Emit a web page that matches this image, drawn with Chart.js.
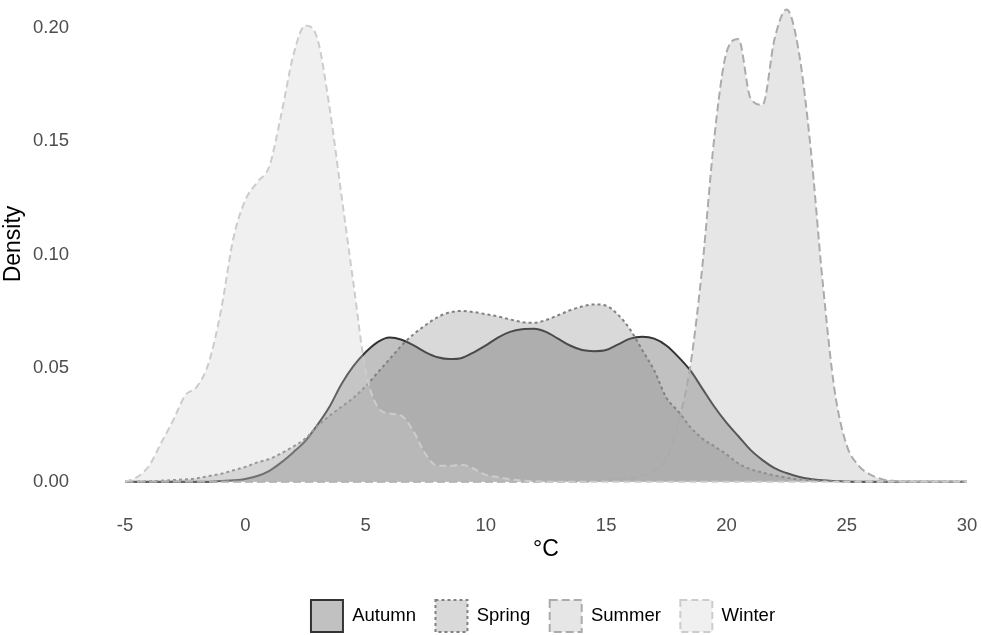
<!DOCTYPE html>
<html>
<head>
<meta charset="utf-8">
<title>Temperature density by season</title>
<script src="https://cdn.jsdelivr.net/npm/chart.js@4"></script>
<style>
    html, body { margin: 0; padding: 0; background: #ffffff; }
    #wrap { width: 981px; height: 635px; }
</style>
</head>
<body>
<div id="wrap"><canvas id="densityChart" width="981" height="635"></canvas></div>
<script>
// --- Data ---
const seasons = ['Autumn', 'Spring', 'Summer', 'Winter'];

// temperature grid in °C, every half degree
const temps = [
    -5, -4.5, -4, -3.5, -3, -2.5, -2, -1.5, -1, -0.5,
    0, 0.5, 1, 1.5, 2, 2.5, 3, 3.5, 4, 4.5,
    5, 5.5, 6, 6.5, 7, 7.5, 8, 8.5, 9, 9.5,
    10, 10.5, 11, 11.5, 12, 12.5, 13, 13.5, 14, 14.5,
    15, 15.5, 16, 16.5, 17, 17.5, 18, 18.5, 19, 19.5,
    20, 20.5, 21, 21.5, 22, 22.5, 23, 23.5, 24, 24.5,
    25, 25.5, 26, 26.5, 27, 27.5, 28, 28.5, 29, 29.5,
    30
];

const autumnDensity = [
    0, 0, 0, 0, 0, 0, 0, 0, 0.0003, 0.0006,
    0.0012, 0.0025, 0.0048, 0.0085, 0.013, 0.018, 0.025, 0.033, 0.043, 0.051,
    0.057, 0.0615, 0.0635, 0.0625, 0.060, 0.057, 0.0548, 0.054, 0.0545, 0.057,
    0.060, 0.0635, 0.066, 0.0672, 0.0674, 0.066, 0.063, 0.060, 0.058, 0.0575,
    0.058, 0.0605, 0.063, 0.0638, 0.063, 0.060, 0.055, 0.049, 0.041, 0.033,
    0.026, 0.020, 0.014, 0.0095, 0.006, 0.0038, 0.0022, 0.0012, 0.0006, 0.0003,
    0.0001, 0, 0, 0, 0, 0, 0, 0, 0, 0,
    0
];

const springDensity = [
    0, 0, 0.0002, 0.0004, 0.0007, 0.001, 0.0015, 0.0025, 0.0035, 0.005,
    0.0065, 0.0085, 0.010, 0.0125, 0.0155, 0.019, 0.0245, 0.029, 0.033, 0.037,
    0.042, 0.048, 0.054, 0.060, 0.065, 0.069, 0.0725, 0.0746, 0.0752, 0.0747,
    0.0738, 0.0728, 0.0715, 0.0703, 0.070, 0.0712, 0.0733, 0.0755, 0.0772, 0.0781,
    0.0775, 0.0735, 0.067, 0.058, 0.049, 0.037, 0.031, 0.024, 0.019, 0.0155,
    0.012, 0.008, 0.0055, 0.004, 0.0027, 0.0018, 0.001, 0.0006, 0.0003, 0.0002,
    0.0001, 0, 0, 0, 0, 0, 0, 0, 0, 0,
    0
];

const summerDensity = [
    0, 0, 0, 0, 0, 0, 0, 0, 0, 0,
    0, 0, 0, 0, 0, 0, 0, 0, 0, 0,
    0, 0, 0, 0, 0, 0, 0, 0, 0, 0,
    0, 0, 0, 0, 0, 0, 0, 0, 0, 0.0002,
    0.0005, 0.001, 0.0015, 0.0025, 0.005, 0.010, 0.026, 0.051, 0.095, 0.152,
    0.189, 0.195, 0.169, 0.166, 0.195, 0.208, 0.190, 0.147, 0.088, 0.040,
    0.016, 0.007, 0.003, 0.001, 0.0003, 0, 0, 0, 0, 0,
    0
];

const winterDensity = [
    0, 0.002, 0.007, 0.017, 0.027, 0.038, 0.042, 0.053, 0.076, 0.107,
    0.124, 0.132, 0.139, 0.162, 0.188, 0.201, 0.195, 0.165, 0.126, 0.087,
    0.049, 0.033, 0.030, 0.029, 0.022, 0.012, 0.007, 0.007, 0.0075, 0.0057,
    0.003, 0.002, 0.001, 0.0005, 0.0002, 0, 0, 0, 0, 0,
    0, 0, 0, 0, 0, 0, 0, 0, 0, 0,
    0, 0, 0, 0, 0, 0, 0, 0, 0, 0,
    0, 0, 0, 0, 0, 0, 0, 0, 0, 0,
    0
];

const xTicks = [-5, 0, 5, 10, 15, 20, 25, 30];
const yTicks = [0, 0.05, 0.10, 0.15, 0.20];

// --- Styles: grey scale, one line type per season ---
const fillColors = ['rgba(51,51,51,0.3)', 'rgba(129,129,129,0.3)', 'rgba(171,171,171,0.3)', 'rgba(204,204,204,0.3)'];
const lineColors = ['#333333', '#818181', '#ababab', '#cccccc'];
const lineDashes = [[], [3, 3], [8, 4], [7, 4]];

const FONT = '"Liberation Sans", Arial, Helvetica, sans-serif';

function makeSeries(values) {
    return temps.map((t, i) => ({ x: t, y: values[i] }));
}

const allValues = [autumnDensity, springDensity, summerDensity, winterDensity];

const datasets = seasons.map((name, i) => ({
    label: name,
    data: makeSeries(allValues[i]),
    backgroundColor: fillColors[i],
    borderColor: lineColors[i],
    borderDash: lineDashes[i],
    borderWidth: 2,
    fill: 'origin',
    pointRadius: 0,
    cubicInterpolationMode: 'monotone',
    order: seasons.length - 1 - i   // later seasons drawn on top, like the original
}));

// y axis title drawn by hand so it sits where the reference has it
const yTitlePlugin = {
    id: 'yTitle',
    afterDraw(chart) {
        const ctx = chart.ctx;
        ctx.save();
        ctx.translate(14, 244);
        ctx.rotate(-Math.PI / 2);
        ctx.font = '23px ' + FONT;
        ctx.fillStyle = '#000000';
        ctx.textAlign = 'center';
        ctx.textBaseline = 'middle';
        ctx.fillText('Density', 0, 0);
        ctx.restore();
    }
};

// center the legend under the plot panel instead of the whole canvas
const legendCenterPlugin = {
    id: 'legendCenter',
    afterLayout(chart) {
        const lg = chart.legend;
        const area = chart.chartArea;
        const dx = (area.left + area.right) / 2 - (lg.left + lg.right) / 2 - 3;
        lg.left += dx;
        lg.right += dx;
    }
};

const ctx = document.getElementById('densityChart').getContext('2d');
const chart = new Chart(ctx, {
    type: 'line',
    data: { datasets: datasets },
    plugins: [yTitlePlugin, legendCenterPlugin],
    options: {
        responsive: false,
        animation: false,
        devicePixelRatio: 1,
        layout: { padding: { top: 5, left: 33, right: 14, bottom: -7 } },
        plugins: {
            tooltip: { enabled: false },
            legend: {
                position: 'bottom',
                labels: {
                    boxWidth: 32,
                    boxHeight: 32,
                    padding: 19.5,
                    color: '#000000',
                    font: { family: FONT, size: 18.5 },
                    sort: (a, b) => a.datasetIndex - b.datasetIndex
                }
            }
        },
        scales: {
            x: {
                type: 'linear',
                min: -5,
                max: 30,
                grid: { display: false, drawTicks: false },
                border: { display: false },
                afterBuildTicks: (axis) => { axis.ticks = xTicks.map(v => ({ value: v })); },
                afterFit: (axis) => {
                    axis.height = 75;
                    axis.paddingLeft = 0;
                    axis.paddingRight = 0;
                },
                ticks: {
                    padding: 9,
                    color: '#4d4d4d',
                    font: { family: FONT, size: 18.5 },
                    maxRotation: 0,
                    callback: (v) => String(v)
                },
                title: {
                    display: true,
                    text: '°C',
                    color: '#000000',
                    font: { family: FONT, size: 23 },
                    padding: { top: 0, bottom: 17 }
                }
            },
            y: {
                type: 'linear',
                min: -0.0105,
                max: 0.21,
                grid: { display: false, drawTicks: false },
                border: { display: false },
                afterBuildTicks: (axis) => { axis.ticks = yTicks.map(v => ({ value: v })); },
                afterFit: (axis) => {
                    axis.width = 92;
                    axis.paddingTop = 0;
                    axis.paddingBottom = 0;
                },
                ticks: {
                    padding: 0,
                    crossAlign: 'far',
                    color: '#4d4d4d',
                    font: { family: FONT, size: 18.5 },
                    callback: (v) => v.toFixed(2)
                }
            }
        }
    }
});
</script>
</body>
</html>
